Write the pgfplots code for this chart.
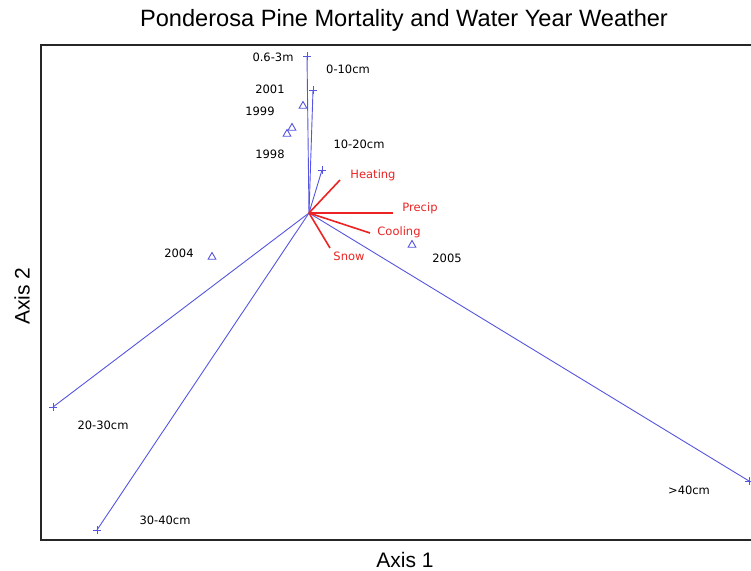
\documentclass[border=0pt]{standalone}
\usepackage{pgfplots}
\pgfplotsset{compat=1.18}
\usepackage{fontspec}
\setmainfont{Liberation Sans}
\newfontfamily\lab{DejaVu Sans}
\definecolor{vblue}{RGB}{85,85,225}
\definecolor{vred}{RGB}{235,35,35}
\tikzset{lbl/.style={font=\lab\fontsize{11.5bp}{13bp}\selectfont, inner sep=0pt}}
\begin{document}
\begin{tikzpicture}
\begin{axis}[name=ax,
  scale only axis, width=727bp, height=495bp,
  xmin=41, xmax=768, ymin=31, ymax=526,
  xtick=\empty, ytick=\empty,
  axis line style={line width=1.5bp, black!85},
  clip=false,
]
% vectors (species size classes)
\addplot[vblue, line width=0.9bp, mark=+, mark size=4bp, mark indices={2}] coordinates {(309,358) (307,515)};
\addplot[vblue, line width=0.9bp, mark=+, mark size=4bp, mark indices={2}] coordinates {(309,358) (313,481)};
\addplot[vblue, line width=0.9bp, mark=+, mark size=4bp, mark indices={2}] coordinates {(309,358) (322,401)};
\addplot[vblue, line width=0.9bp, mark=+, mark size=4bp, mark indices={2}] coordinates {(309,358) (53,164)};
\addplot[vblue, line width=0.9bp, mark=+, mark size=4bp, mark indices={2}] coordinates {(309,358) (97,41)};
\addplot[vblue, line width=0.9bp, mark=+, mark size=4bp, mark indices={2}] coordinates {(309,358) (749,90)};
% weather vectors
\addplot[vred, line width=1.6bp, no marks] coordinates {(309,358) (340,391)};
\addplot[vred, line width=1.6bp, no marks] coordinates {(309,358) (393,358)};
\addplot[vred, line width=1.6bp, no marks] coordinates {(309,358) (370,338)};
\addplot[vred, line width=1.6bp, no marks] coordinates {(309,358) (330,323)};
% years
\addplot[vblue, only marks, mark=triangle, mark size=4.5bp, line width=0.9bp] coordinates {(303,465) (292,443) (287,437) (212,314) (412,326)};
% labels
\node[lbl] at (axis cs:273,514) {0.6-3m};
\node[lbl] at (axis cs:348,502) {0-10cm};
\node[lbl] at (axis cs:359,427) {10-20cm};
\node[lbl] at (axis cs:103,146) {20-30cm};
\node[lbl] at (axis cs:165,51) {30-40cm};
\node[lbl] at (axis cs:689,81) {>40cm};
\node[lbl] at (axis cs:270,482) {2001};
\node[lbl] at (axis cs:260,460) {1999};
\node[lbl] at (axis cs:270,417) {1998};
\node[lbl] at (axis cs:179,318) {2004};
\node[lbl] at (axis cs:447,313) {2005};
\node[lbl, text=vred] at (axis cs:373,396) {Heating};
\node[lbl, text=vred] at (axis cs:420,363) {Precip};
\node[lbl, text=vred] at (axis cs:399,339) {Cooling};
\node[lbl, text=vred] at (axis cs:349,315) {Snow};
% title and axis labels
\node[font=\fontsize{23.6bp}{26bp}\selectfont, inner sep=0pt] at (axis cs:404,551) {Ponderosa Pine Mortality and Water Year Weather};
\node[font=\fontsize{21bp}{24bp}\selectfont, inner sep=0pt] at (axis cs:405,11) {Axis 1};
\node[font=\fontsize{21bp}{24bp}\selectfont, inner sep=0pt, rotate=90] at (axis cs:22,275) {Axis 2};
\end{axis}
\pgfresetboundingbox
\path[use as bounding box] ([shift={(-41bp,-31bp)}]ax.south west) rectangle ([shift={(710bp,540bp)}]ax.south west);
\end{tikzpicture}
\end{document}
